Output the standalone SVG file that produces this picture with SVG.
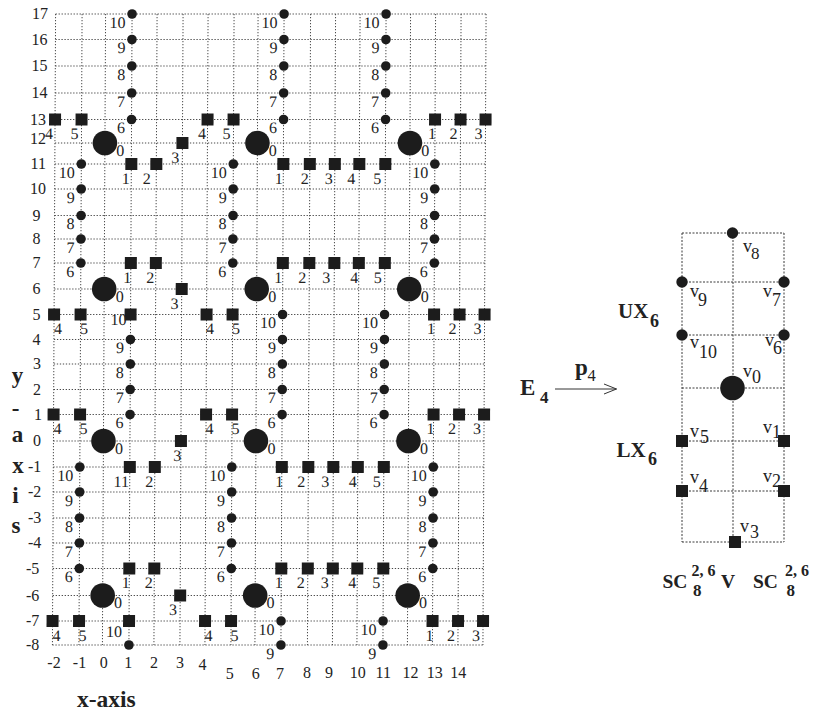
<svg xmlns="http://www.w3.org/2000/svg" xmlns:xlink="http://www.w3.org/1999/xlink" width="818" height="711" viewBox="0 0 818 711">
<style>
.g{stroke:#4a4a4a;stroke-width:1;stroke-dasharray:1.3 1.7;fill:none}
.rg{stroke:#3a3a3a;stroke-width:1;stroke-dasharray:2 1.5;fill:none}
.m{fill:#1c1c1c}
.t{font-family:"Liberation Serif","Times New Roman",serif;font-size:16px;fill:#222}
.dl{text-anchor:end}
.sl{text-anchor:middle}
.b{font-weight:bold}
.ar{stroke:#333;stroke-width:1;fill:none}
</style>
<defs>
<circle id="dt" class="m" r="4.8"/>
<circle id="rd" class="m" r="5.7"/>
<rect id="sq" class="m" x="-6" y="-6" width="12" height="12"/>
<circle id="bd" class="m" r="12.3"/>
</defs>
<rect width="818" height="711" fill="#fff"/>
<g id="plane" transform="matrix(1 0 -0.005 1 1.65 0)">
<g id="grid">
<path class="g" d="M54 14V645M80.5 14V645M104 14V645M130.5 14V645M155.5 14V645M181.5 14V645M206.5 14V645M232.5 14V645M256.5 14V645M282.5 14V645M309 14V645M334 14V645M358.5 14V645M384.5 14V645M409 14V645M434 14V645M459.5 14V645M484.5 14V645"/>
<path class="g" d="M54 14H484.5M54 39.5H484.5M54 66H484.5M54 93H484.5M54 119.5H484.5M54 143H484.5M54 164H484.5M54 189H484.5M54 215.5H484.5M54 239H484.5M54 263H484.5M54 289H484.5M54 314.5H484.5M54 339.5H484.5M54 364H484.5M54 389.5H484.5M54 414.5H484.5M54 441H484.5M54 467H484.5M54 492H484.5M54 518H484.5M54 543H484.5M54 568.5H484.5M54 595.5H484.5M54 621H484.5M54 645H484.5"/>
</g>
<!-- big dots -->
<g id="b0_12"><use href="#bd" x="104" y="143"/><text class="t" x="115.5" y="156">0</text></g>
<g id="b6_12"><use href="#bd" x="256.5" y="143"/><text class="t" x="268" y="156">0</text></g>
<g id="b12_12"><use href="#bd" x="409" y="143"/><text class="t" x="420.5" y="156">0</text></g>
<g id="b0_6"><use href="#bd" x="104" y="289"/><text class="t" x="115.5" y="302">0</text></g>
<g id="b6_6"><use href="#bd" x="256.5" y="289"/><text class="t" x="268" y="302">0</text></g>
<g id="b12_6"><use href="#bd" x="409" y="289"/><text class="t" x="420.5" y="302">0</text></g>
<g id="b0_0"><use href="#bd" x="104" y="441"/><text class="t" x="115.5" y="454">0</text></g>
<g id="b6_0"><use href="#bd" x="256.5" y="441"/><text class="t" x="268" y="454">0</text></g>
<g id="b12_0"><use href="#bd" x="409" y="441"/><text class="t" x="420.5" y="454">0</text></g>
<g id="b0_m6"><use href="#bd" x="104" y="595.5"/><text class="t" x="115.5" y="608.5">0</text></g>
<g id="b6_m6"><use href="#bd" x="256.5" y="595.5"/><text class="t" x="268" y="608.5">0</text></g>
<g id="b12_m6"><use href="#bd" x="409" y="595.5"/><text class="t" x="420.5" y="608.5">0</text></g>
<!-- upper dot columns x=1,7,11 (y 17..13) -->
<g id="d1_17"><use href="#dt" x="130.5" y="14"/><text class="t dl" x="124" y="28">10</text></g>
<g id="d1_16"><use href="#dt" x="130.5" y="39.5"/><text class="t dl" x="124" y="53.5">9</text></g>
<g id="d1_15"><use href="#dt" x="130.5" y="66"/><text class="t dl" x="124" y="80">8</text></g>
<g id="d1_14"><use href="#dt" x="130.5" y="93"/><text class="t dl" x="124" y="107">7</text></g>
<g id="d1_13"><use href="#dt" x="130.5" y="119.5"/><text class="t dl" x="124" y="133.5">6</text></g>
<g id="d7_17"><use href="#dt" x="282.5" y="14"/><text class="t dl" x="276" y="28">10</text></g>
<g id="d7_16"><use href="#dt" x="282.5" y="39.5"/><text class="t dl" x="276" y="53.5">9</text></g>
<g id="d7_15"><use href="#dt" x="282.5" y="66"/><text class="t dl" x="276" y="80">8</text></g>
<g id="d7_14"><use href="#dt" x="282.5" y="93"/><text class="t dl" x="276" y="107">7</text></g>
<g id="d7_13"><use href="#dt" x="282.5" y="119.5"/><text class="t dl" x="276" y="133.5">6</text></g>
<g id="d11_17"><use href="#dt" x="384.5" y="14"/><text class="t dl" x="378" y="28">10</text></g>
<g id="d11_16"><use href="#dt" x="384.5" y="39.5"/><text class="t dl" x="378" y="53.5">9</text></g>
<g id="d11_15"><use href="#dt" x="384.5" y="66"/><text class="t dl" x="378" y="80">8</text></g>
<g id="d11_14"><use href="#dt" x="384.5" y="93"/><text class="t dl" x="378" y="107">7</text></g>
<g id="d11_13"><use href="#dt" x="384.5" y="119.5"/><text class="t dl" x="378" y="133.5">6</text></g>
<!-- dot columns x=-1,5,13 (y 11..7) -->
<g id="dm1_11"><use href="#dt" x="80.5" y="164"/><text class="t dl" x="74" y="178">10</text></g>
<g id="dm1_10"><use href="#dt" x="80.5" y="189"/><text class="t dl" x="74" y="203">9</text></g>
<g id="dm1_9"><use href="#dt" x="80.5" y="215.5"/><text class="t dl" x="74" y="229.5">8</text></g>
<g id="dm1_8"><use href="#dt" x="80.5" y="239"/><text class="t dl" x="74" y="253">7</text></g>
<g id="dm1_7"><use href="#dt" x="80.5" y="263"/><text class="t dl" x="74" y="277">6</text></g>
<g id="d5_11"><use href="#dt" x="232.5" y="164"/><text class="t dl" x="226" y="178">10</text></g>
<g id="d5_10"><use href="#dt" x="232.5" y="189"/><text class="t dl" x="226" y="203">9</text></g>
<g id="d5_9"><use href="#dt" x="232.5" y="215.5"/><text class="t dl" x="226" y="229.5">8</text></g>
<g id="d5_8"><use href="#dt" x="232.5" y="239"/><text class="t dl" x="226" y="253">7</text></g>
<g id="d5_7"><use href="#dt" x="232.5" y="263"/><text class="t dl" x="226" y="277">6</text></g>
<g id="d13_11"><use href="#dt" x="434" y="164"/><text class="t dl" x="427.5" y="178">10</text></g>
<g id="d13_10"><use href="#dt" x="434" y="189"/><text class="t dl" x="427.5" y="203">9</text></g>
<g id="d13_9"><use href="#dt" x="434" y="215.5"/><text class="t dl" x="427.5" y="229.5">8</text></g>
<g id="d13_8"><use href="#dt" x="434" y="239"/><text class="t dl" x="427.5" y="253">7</text></g>
<g id="d13_7"><use href="#dt" x="434" y="263"/><text class="t dl" x="427.5" y="277">6</text></g>
<!-- dot columns x=1,7,11 (y 5..1) -->
<g id="s1_5"><use href="#sq" x="130.5" y="314.5"/><text class="t dl" x="126.5" y="325.5">10</text></g>
<g id="d1_4"><use href="#dt" x="130.5" y="339.5"/><text class="t dl" x="124" y="353.5">9</text></g>
<g id="d1_3"><use href="#dt" x="130.5" y="364"/><text class="t dl" x="124" y="378">8</text></g>
<g id="d1_2"><use href="#dt" x="130.5" y="389.5"/><text class="t dl" x="124" y="403.5">7</text></g>
<g id="d1_1"><use href="#dt" x="130.5" y="414.5"/><text class="t dl" x="124" y="428.5">6</text></g>
<g id="d7_5"><use href="#dt" x="282.5" y="314.5"/><text class="t dl" x="276" y="328.5">10</text></g>
<g id="d7_4"><use href="#dt" x="282.5" y="339.5"/><text class="t dl" x="276" y="353.5">9</text></g>
<g id="d7_3"><use href="#dt" x="282.5" y="364"/><text class="t dl" x="276" y="378">8</text></g>
<g id="d7_2"><use href="#dt" x="282.5" y="389.5"/><text class="t dl" x="276" y="403.5">7</text></g>
<g id="d7_1"><use href="#dt" x="282.5" y="414.5"/><text class="t dl" x="276" y="428.5">6</text></g>
<g id="d11_5"><use href="#dt" x="384.5" y="314.5"/><text class="t dl" x="378" y="328.5">10</text></g>
<g id="d11_4"><use href="#dt" x="384.5" y="339.5"/><text class="t dl" x="378" y="353.5">9</text></g>
<g id="d11_3"><use href="#dt" x="384.5" y="364"/><text class="t dl" x="378" y="378">8</text></g>
<g id="d11_2"><use href="#dt" x="384.5" y="389.5"/><text class="t dl" x="378" y="403.5">7</text></g>
<g id="d11_1"><use href="#dt" x="384.5" y="414.5"/><text class="t dl" x="378" y="428.5">6</text></g>
<!-- dot columns x=-1,5,13 (y -1..-5) -->
<g id="dm1_m1"><use href="#dt" x="80.5" y="467"/><text class="t dl" x="74" y="481">10</text></g>
<g id="dm1_m2"><use href="#dt" x="80.5" y="492"/><text class="t dl" x="74" y="506">9</text></g>
<g id="dm1_m3"><use href="#dt" x="80.5" y="518"/><text class="t dl" x="74" y="532">8</text></g>
<g id="dm1_m4"><use href="#dt" x="80.5" y="543"/><text class="t dl" x="74" y="557">7</text></g>
<g id="dm1_m5"><use href="#dt" x="80.5" y="568.5"/><text class="t dl" x="74" y="582.5">6</text></g>
<g id="d5_m1"><use href="#dt" x="232.5" y="467"/><text class="t dl" x="226" y="481">10</text></g>
<g id="d5_m2"><use href="#dt" x="232.5" y="492"/><text class="t dl" x="226" y="506">9</text></g>
<g id="d5_m3"><use href="#dt" x="232.5" y="518"/><text class="t dl" x="226" y="532">8</text></g>
<g id="d5_m4"><use href="#dt" x="232.5" y="543"/><text class="t dl" x="226" y="557">7</text></g>
<g id="d5_m5"><use href="#dt" x="232.5" y="568.5"/><text class="t dl" x="226" y="582.5">6</text></g>
<g id="d13_m1"><use href="#dt" x="434" y="467"/><text class="t dl" x="427.5" y="481">10</text></g>
<g id="d13_m2"><use href="#dt" x="434" y="492"/><text class="t dl" x="427.5" y="506">9</text></g>
<g id="d13_m3"><use href="#dt" x="434" y="518"/><text class="t dl" x="427.5" y="532">8</text></g>
<g id="d13_m4"><use href="#dt" x="434" y="543"/><text class="t dl" x="427.5" y="557">7</text></g>
<g id="d13_m5"><use href="#dt" x="434" y="568.5"/><text class="t dl" x="427.5" y="582.5">6</text></g>
<!-- bottom dots -->
<g id="s1_m7"><use href="#sq" x="130.5" y="621"/><text class="t dl" x="123.5" y="637">10</text></g>
<g id="d1_m8"><use href="#dt" x="130.5" y="645"/></g>
<g id="d7_m7"><use href="#dt" x="282.5" y="621"/><text class="t dl" x="276" y="635">10</text></g>
<g id="d7_m8"><use href="#dt" x="282.5" y="645"/><text class="t dl" x="276" y="659">9</text></g>
<g id="d11_m7"><use href="#dt" x="384.5" y="621"/><text class="t dl" x="378" y="635">10</text></g>
<g id="d11_m8"><use href="#dt" x="384.5" y="645"/><text class="t dl" x="378" y="659">9</text></g>
<!-- squares y=13 -->
<g id="sm2_13"><use href="#sq" x="54" y="119.5"/><text class="t sl" x="48" y="139.5">4</text></g>
<g id="sm1_13"><use href="#sq" x="80.5" y="119.5"/><text class="t sl" x="73.5" y="139.5">5</text></g>
<g id="s4_13"><use href="#sq" x="206.5" y="119.5"/><text class="t sl" x="201" y="139.5">4</text></g>
<g id="s5_13"><use href="#sq" x="232.5" y="119.5"/><text class="t sl" x="225.5" y="139.5">5</text></g>
<g id="s13_13"><use href="#sq" x="434" y="119.5"/><text class="t sl" x="431" y="139.5">1</text></g>
<g id="s14_13"><use href="#sq" x="459.5" y="119.5"/><text class="t sl" x="452.5" y="139.5">2</text></g>
<g id="s15_13"><use href="#sq" x="484.5" y="119.5"/><text class="t sl" x="477.5" y="139.5">3</text></g>
<g id="s3_12"><use href="#sq" x="181.5" y="143"/><text class="t sl" x="174.5" y="163">3</text></g>
<!-- squares y=11 -->
<g id="s1_11"><use href="#sq" x="130.5" y="164"/><text class="t sl" x="125" y="184">1</text></g>
<g id="s2_11"><use href="#sq" x="155.5" y="164"/><text class="t sl" x="146" y="184">2</text></g>
<g id="s7_11"><use href="#sq" x="282.5" y="164"/><text class="t sl" x="278" y="184">1</text></g>
<g id="s8_11"><use href="#sq" x="309" y="164"/><text class="t sl" x="304" y="184">2</text></g>
<g id="s9_11"><use href="#sq" x="334" y="164"/><text class="t sl" x="328" y="184">3</text></g>
<g id="s10_11"><use href="#sq" x="358.5" y="164"/><text class="t sl" x="350.5" y="184">4</text></g>
<g id="s11_11"><use href="#sq" x="384.5" y="164"/><text class="t sl" x="376.5" y="184">5</text></g>
<!-- squares y=7 -->
<g id="s1_7"><use href="#sq" x="130.5" y="263"/><text class="t sl" x="127" y="283">1</text></g>
<g id="s2_7"><use href="#sq" x="155.5" y="263"/><text class="t sl" x="150" y="283">2</text></g>
<g id="s7_7"><use href="#sq" x="282.5" y="263"/><text class="t sl" x="278" y="283">1</text></g>
<g id="s8_7"><use href="#sq" x="309" y="263"/><text class="t sl" x="302" y="283">2</text></g>
<g id="s9_7"><use href="#sq" x="334" y="263"/><text class="t sl" x="326" y="283">3</text></g>
<g id="s10_7"><use href="#sq" x="358.5" y="263"/><text class="t sl" x="354" y="283">4</text></g>
<g id="s11_7"><use href="#sq" x="384.5" y="263"/><text class="t sl" x="377.5" y="283">5</text></g>
<g id="s3_6"><use href="#sq" x="181.5" y="289"/><text class="t sl" x="174.5" y="309">3</text></g>
<!-- squares y=5 -->
<g id="sm2_5"><use href="#sq" x="54" y="314.5"/><text class="t sl" x="58" y="334.5">4</text></g>
<g id="sm1_5"><use href="#sq" x="80.5" y="314.5"/><text class="t sl" x="84" y="334.5">5</text></g>
<g id="s4_5"><use href="#sq" x="206.5" y="314.5"/><text class="t sl" x="210" y="334.5">4</text></g>
<g id="s5_5"><use href="#sq" x="232.5" y="314.5"/><text class="t sl" x="236" y="334.5">5</text></g>
<g id="s13_5"><use href="#sq" x="434" y="314.5"/><text class="t sl" x="431" y="334.5">1</text></g>
<g id="s14_5"><use href="#sq" x="459.5" y="314.5"/><text class="t sl" x="452.5" y="334.5">2</text></g>
<g id="s15_5"><use href="#sq" x="484.5" y="314.5"/><text class="t sl" x="477.5" y="334.5">3</text></g>
<!-- squares y=1 -->
<g id="sm2_1"><use href="#sq" x="54" y="414.5"/><text class="t sl" x="58" y="434.5">4</text></g>
<g id="sm1_1"><use href="#sq" x="80.5" y="414.5"/><text class="t sl" x="84" y="434.5">5</text></g>
<g id="s4_1"><use href="#sq" x="206.5" y="414.5"/><text class="t sl" x="210" y="434.5">4</text></g>
<g id="s5_1"><use href="#sq" x="232.5" y="414.5"/><text class="t sl" x="236" y="434.5">5</text></g>
<g id="s13_1"><use href="#sq" x="434" y="414.5"/><text class="t sl" x="431" y="434.5">1</text></g>
<g id="s14_1"><use href="#sq" x="459.5" y="414.5"/><text class="t sl" x="452.5" y="434.5">2</text></g>
<g id="s15_1"><use href="#sq" x="484.5" y="414.5"/><text class="t sl" x="477.5" y="434.5">3</text></g>
<g id="s3_0"><use href="#sq" x="181.5" y="441"/><text class="t sl" x="178" y="461">3</text></g>
<!-- squares y=-1 -->
<g id="s1_m1"><use href="#sq" x="130.5" y="467"/><text class="t sl" x="122" y="487">11</text></g>
<g id="s2_m1"><use href="#sq" x="155.5" y="467"/><text class="t sl" x="150" y="487">2</text></g>
<g id="s7_m1"><use href="#sq" x="282.5" y="467"/><text class="t sl" x="280" y="487">1</text></g>
<g id="s8_m1"><use href="#sq" x="309" y="467"/><text class="t sl" x="302" y="487">2</text></g>
<g id="s9_m1"><use href="#sq" x="334" y="467"/><text class="t sl" x="326" y="487">3</text></g>
<g id="s10_m1"><use href="#sq" x="358.5" y="467"/><text class="t sl" x="353.5" y="487">4</text></g>
<g id="s11_m1"><use href="#sq" x="384.5" y="467"/><text class="t sl" x="377.5" y="487">5</text></g>
<!-- squares y=-5 -->
<g id="s1_m5"><use href="#sq" x="130.5" y="568.5"/><text class="t sl" x="127" y="588.5">1</text></g>
<g id="s2_m5"><use href="#sq" x="155.5" y="568.5"/><text class="t sl" x="150" y="588.5">2</text></g>
<g id="s7_m5"><use href="#sq" x="282.5" y="568.5"/><text class="t sl" x="280" y="588.5">1</text></g>
<g id="s8_m5"><use href="#sq" x="309" y="568.5"/><text class="t sl" x="302" y="588.5">2</text></g>
<g id="s9_m5"><use href="#sq" x="334" y="568.5"/><text class="t sl" x="326" y="588.5">3</text></g>
<g id="s10_m5"><use href="#sq" x="358.5" y="568.5"/><text class="t sl" x="353.5" y="588.5">4</text></g>
<g id="s11_m5"><use href="#sq" x="384.5" y="568.5"/><text class="t sl" x="377.5" y="588.5">5</text></g>
<g id="s3_m6"><use href="#sq" x="181.5" y="595.5"/><text class="t sl" x="174.5" y="615.5">3</text></g>
<!-- squares y=-7 -->
<g id="sm2_m7"><use href="#sq" x="54" y="621"/><text class="t sl" x="58" y="641">4</text></g>
<g id="sm1_m7"><use href="#sq" x="80.5" y="621"/><text class="t sl" x="84" y="641">5</text></g>
<g id="s4_m7"><use href="#sq" x="206.5" y="621"/><text class="t sl" x="210" y="641">4</text></g>
<g id="s5_m7"><use href="#sq" x="232.5" y="621"/><text class="t sl" x="236" y="641">5</text></g>
<g id="s13_m7"><use href="#sq" x="434" y="621"/><text class="t sl" x="431" y="641">1</text></g>
<g id="s14_m7"><use href="#sq" x="459.5" y="621"/><text class="t sl" x="452.5" y="641">2</text></g>
<g id="s15_m7"><use href="#sq" x="484.5" y="621"/><text class="t sl" x="477.5" y="641">3</text></g>
</g>
<!-- y axis numbers -->
<g id="yaxis" class="t">
<text x="32" y="19">17</text>
<text x="31.5" y="45">16</text>
<text x="31.5" y="71">15</text>
<text x="31.5" y="98">14</text>
<text x="30" y="124.5">13</text>
<text x="30" y="144">12</text>
<text x="30.5" y="169">11</text>
<text x="30" y="194">10</text>
<text x="32.5" y="220.5">9</text>
<text x="32.5" y="244">8</text>
<text x="32.5" y="268">7</text>
<text x="32.5" y="294">6</text>
<text x="32.5" y="319.5">5</text>
<text x="32.5" y="344.5">4</text>
<text x="33" y="369">3</text>
<text x="33" y="394.5">2</text>
<text x="34" y="419.5">1</text>
<text x="33" y="446">0</text>
<text x="28" y="472">-1</text>
<text x="28" y="497">-2</text>
<text x="28" y="523">-3</text>
<text x="28" y="548">-4</text>
<text x="26" y="573.5">-5</text>
<text x="26" y="600.5">-6</text>
<text x="26" y="626">-7</text>
<text x="26" y="650">-8</text>
</g>
<g id="xaxis" class="t sl">
<text x="54" y="668">-2</text>
<text x="79.5" y="668">-1</text>
<text x="103.7" y="668">0</text>
<text x="128.3" y="668">1</text>
<text x="154" y="668">2</text>
<text x="180" y="668">3</text>
<text x="202.5" y="670">4</text>
<text x="229.7" y="679">5</text>
<text x="255.8" y="679">6</text>
<text x="280" y="679">7</text>
<text x="307" y="678">8</text>
<text x="329" y="678">9</text>
<text x="357.7" y="678">10</text>
<text x="383.3" y="678">11</text>
<text x="410.5" y="678">12</text>
<text x="434.7" y="678">13</text>
<text x="458.3" y="678">14</text>
</g>
<text id="xtitle" class="t b" x="77" y="707" style="font-size:23.5px">x-axis</text>
<g id="ytitle" class="t b sl" style="font-size:23px">
<text x="17.5" y="383">y</text>
<text x="15.5" y="416">-</text>
<text x="17.5" y="442">a</text>
<text x="18" y="473">x</text>
<text x="15.5" y="503">i</text>
<text x="16" y="533">s</text>
</g>
<!-- mapping arrow -->
<g id="map">
<text class="t b" x="520" y="395" style="font-size:23px">E<tspan x="540" y="402.7" style="font-size:17px">4</tspan></text>
<text class="t b" x="575" y="375" style="font-size:23px">p<tspan x="587.5" y="380.7" style="font-size:16.5px;font-weight:normal">4</tspan></text>
</g>
<g id="connectors">
<path class="ar" d="M555 389H616.5M604 384L616.5 389L604 394"/>
</g>
<!-- right sketch -->
<g id="rgrid">
<path class="rg" d="M682 233H784M682 282H784M682 335H784M682 388H784M682 441H784M682 491H784M682 542H784M682 233V542M733 233V542M784 233V542"/>
</g>
<g id="v8"><use href="#rd" x="732.5" y="233"/><text class="t" style="font-size:18px" x="743" y="252">v<tspan x="751" y="259" style="font-size:17px">8</tspan></text></g>
<g id="v9"><use href="#rd" x="682" y="282"/><text class="t" style="font-size:18px" x="690" y="297">v<tspan x="698" y="306">9</tspan></text></g>
<g id="v7"><use href="#rd" x="784" y="282"/><text class="t" style="font-size:18px" x="763" y="297">v<tspan x="772" y="306">7</tspan></text></g>
<g id="v10"><use href="#rd" x="682" y="335"/><text class="t" style="font-size:18px" x="690" y="348">v<tspan x="699" y="358">10</tspan></text></g>
<g id="v6"><use href="#rd" x="784" y="335"/><text class="t" style="font-size:18px" x="765" y="346">v<tspan x="773" y="354">6</tspan></text></g>
<g id="v0"><use href="#bd" x="732.5" y="388"/><text class="t" style="font-size:18px" x="743" y="377">v<tspan x="752" y="383">0</tspan></text></g>
<g id="v5"><use href="#sq" x="682" y="441"/><text class="t" style="font-size:18px" x="690" y="437">v<tspan x="700" y="442.5">5</tspan></text></g>
<g id="v1"><use href="#sq" x="784" y="441"/><text class="t" style="font-size:18px" x="763" y="433">v<tspan x="772" y="438">1</tspan></text></g>
<g id="v4"><use href="#sq" x="682" y="491"/><text class="t" style="font-size:18px" x="690" y="483">v<tspan x="699" y="491.5">4</tspan></text></g>
<g id="v2"><use href="#sq" x="784" y="491"/><text class="t" style="font-size:18px" x="763" y="482">v<tspan x="772" y="486.5">2</tspan></text></g>
<g id="v3"><use href="#sq" x="735" y="542"/><text class="t" style="font-size:18px" x="740" y="532">v<tspan x="750" y="538">3</tspan></text></g>
<text id="ux6" class="t b" x="618" y="318.3" style="font-size:21px">UX<tspan x="650" y="326.7" style="font-size:18px">6</tspan></text>
<text id="lx6" class="t b" x="616.5" y="456.7" style="font-size:21px">LX<tspan x="648" y="465" style="font-size:18px">6</tspan></text>
<g id="formula" class="t b">
<text x="662.5" y="587.7" style="font-size:19.5px">SC</text>
<text x="691.5" y="576" style="font-size:16px">2, 6</text>
<text x="693" y="596" style="font-size:17px">8</text>
<text x="721" y="587.7" style="font-size:19.5px">V</text>
<text x="753" y="587.7" style="font-size:19.5px">SC</text>
<text x="785" y="576" style="font-size:16px">2, 6</text>
<text x="786.5" y="596" style="font-size:17px">8</text>
</g>
</svg>
